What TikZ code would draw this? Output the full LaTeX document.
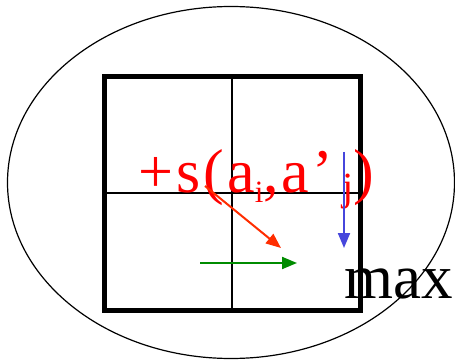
\documentclass[tikz,border=0pt]{standalone}
\usepackage{fontspec}
\setmainfont{Liberation Serif}
\usetikzlibrary{arrows.meta}
\definecolor{txtred}{RGB}{255,0,0}
\definecolor{arrred}{RGB}{255,45,0}
\definecolor{arrblue}{RGB}{70,70,220}
\definecolor{arrgreen}{RGB}{0,140,0}
\tikzset{
  thinline/.style={line width=2.5pt},
  boxline/.style={line width=5pt},
  ptr/.style={line width=2pt,-{Triangle[length=15pt,width=12pt]}},
  redtext/.style={inner sep=0pt,text=txtred,font=\fontsize{62}{62}\selectfont\addfontfeature{LetterSpace=5}},
  maxtext/.style={inner sep=0pt,font=\fontsize{63}{63}\selectfont}
}
\begin{document}
\begin{tikzpicture}[x=1pt,y=1pt]
\useasboundingbox (0,0) rectangle (455,362);
% ellipse
\draw[line width=1.2pt] (231,179.5) ellipse [x radius=223.5, y radius=176];
% grid
\coordinate (bl) at (104,51.5);
\coordinate (tr) at (360,285.5);
\draw[thinline] (232,51.5) -- (232,285.5);
\draw[thinline] (104,169) -- (360,169);
\draw[boxline] (bl) rectangle (tr);
% texts
\node[redtext,anchor=base west] (sfun) at (138,170)
  {+s(a\raisebox{-11pt}{\fontsize{31}{31}\selectfont i},a’\hspace{9pt}\raisebox{-9pt}{\fontsize{40}{40}\selectfont j})};
\node[maxtext,anchor=base west] (maxt) at (344,64) {max};
% arrows
\coordinate (r0) at (205,176);
\coordinate (r1) at (281,114);
\coordinate (b0) at (344,210);
\coordinate (b1) at (344,114);
\coordinate (g0) at (200,99);
\coordinate (g1) at (297,99);
\draw[ptr,arrred] (r0) -- (r1);
\draw[ptr,arrblue] (b0) -- (b1);
\draw[ptr,arrgreen] (g0) -- (g1);
\end{tikzpicture}
\end{document}
